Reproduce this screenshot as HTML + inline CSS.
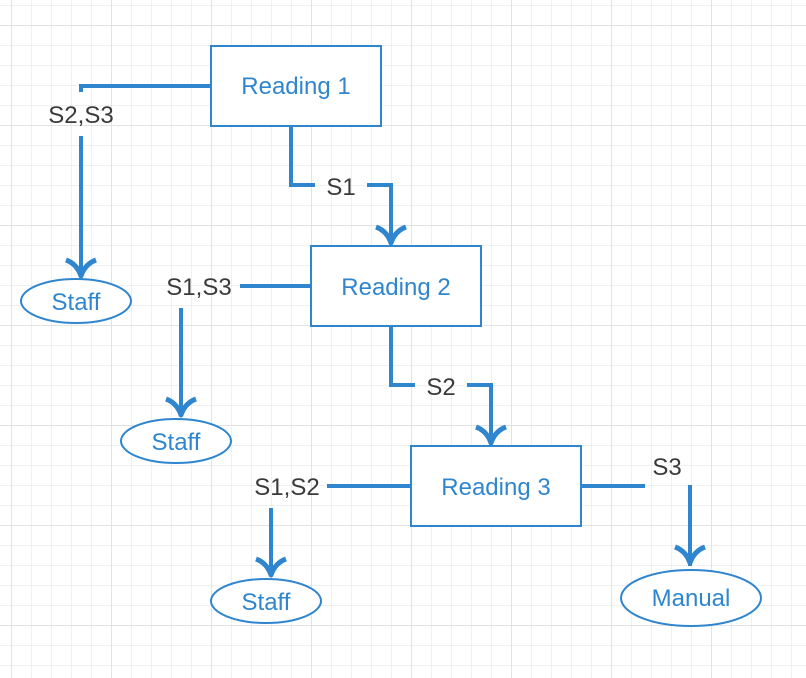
<!DOCTYPE html>
<html><head><meta charset="utf-8"><style>
html,body{margin:0;padding:0;background:#fff}
svg{display:block}
text{font-family:"Liberation Sans",sans-serif;font-size:24px}
.b{fill:#2f86cf}
.d{fill:#3a3a3a}
</style></head><body>
<svg width="806" height="678" viewBox="0 0 806 678" xmlns="http://www.w3.org/2000/svg">
<defs>
<pattern id="g" x="11" y="5" width="20" height="20" patternUnits="userSpaceOnUse">
<path d="M0 0H20M0 0V20" stroke="#e8e8e8" stroke-width="1.3" fill="none"/>
</pattern>
<pattern id="G" x="11" y="25" width="100" height="100" patternUnits="userSpaceOnUse">
<path d="M0 0H100M0 0V100" stroke="#dcdcdc" stroke-width="1.5" fill="none"/>
</pattern>
</defs>
<rect width="806" height="678" fill="url(#g)"/>
<rect width="806" height="678" fill="url(#G)"/>
<g fill="#fff" stroke="#2f86cf" stroke-width="2">
<rect x="211" y="46" width="170" height="80"/>
<rect x="311" y="246" width="170" height="80"/>
<rect x="411" y="446" width="170" height="80"/>
<ellipse cx="76" cy="301" rx="55" ry="22"/>
<ellipse cx="176" cy="441" rx="55" ry="22"/>
<ellipse cx="266" cy="601" rx="55" ry="22"/>
<ellipse cx="691" cy="598" rx="70" ry="28"/>
</g>
<g fill="none" stroke="#2f86cf" stroke-width="4">
<path d="M211 86H81V92M81 136V275"/>
<path d="M291 126V185H315M367 185H391V242"/>
<path d="M311 286H240M181 308V414"/>
<path d="M391 326V385H415M467 385H491V442"/>
<path d="M411 486H327M271 508V574"/>
<path d="M581 486H645M690 485V566"/>
</g>
<g fill="none" stroke="#2f86cf" stroke-width="5" stroke-linejoin="round">
<path d="M66 260Q77 264 81 276Q85 264 96 260"/>
<path d="M376 227Q387 231 391 243Q395 231 406 227"/>
<path d="M166 399Q177 403 181 415Q185 403 196 399"/>
<path d="M476 427Q487 431 491 443Q495 431 506 427"/>
<path d="M256 559Q267 563 271 575Q275 563 286 559"/>
<path d="M675 547Q686 551 690 563Q694 551 705 547"/>
</g>
<g text-anchor="middle">
<text x="296" y="94" class="b">Reading 1</text>
<text x="396" y="295" class="b">Reading 2</text>
<text x="496" y="495" class="b">Reading 3</text>
<text x="76" y="310" class="b">Staff</text>
<text x="176" y="450" class="b">Staff</text>
<text x="266" y="610" class="b">Staff</text>
<text x="691" y="606" class="b">Manual</text>
<text x="81" y="123" class="d">S2,S3</text>
<text x="341" y="195" class="d">S1</text>
<text x="199" y="295" class="d">S1,S3</text>
<text x="441" y="395" class="d">S2</text>
<text x="287" y="495" class="d">S1,S2</text>
<text x="667" y="475" class="d">S3</text>
</g>
</svg>
</body></html>
